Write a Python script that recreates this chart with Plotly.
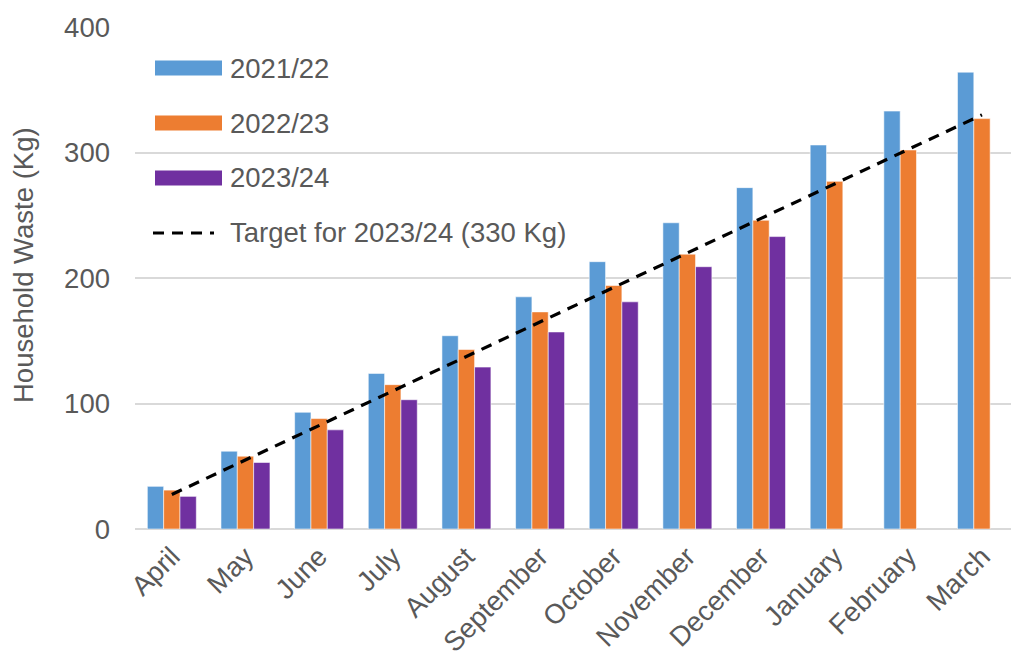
import plotly.graph_objects as go

months = ["April", "May", "June", "July", "August", "September", "October",
          "November", "December", "January", "February", "March"]
series_names = ["2021/22", "2022/23", "2023/24"]
waste_2122 = [34, 62, 93, 124, 154, 185, 213, 244, 272, 306, 333, 364]
waste_2223 = [31, 58, 88, 115, 143, 173, 194, 219, 246, 277, 302, 327]
waste_2324 = [26, 53, 79, 103, 129, 157, 181, 209, 233]
target_2324 = [27.5, 55, 82.5, 110, 137.5, 165, 192.5, 220, 247.5, 275, 302.5, 330]
target_name = "Target for 2023/24 (330 Kg)"
y_title = "Household Waste (Kg)"
y_ticks = [0, 100, 200, 300, 400]

colors = ["#5B9BD5", "#ED7D31", "#7030A0"]
text_color = "#595959"
font_family = "Liberation Sans, Arial, sans-serif"
fs = 27.5

W, H = 1011, 657
L, R, T, B = 135, 0, 27, 128
pw, ph = W - L - R, H - T - B

fig = go.Figure()
for name, vals, col in zip(series_names, [waste_2122, waste_2223, waste_2324], colors):
    fig.add_trace(go.Bar(
        x=months[:len(vals)], y=vals, name=name,
        marker=dict(color=col, line=dict(color="rgba(255,255,255,0.55)", width=1)),
        showlegend=False,
    ))
fig.add_trace(go.Scatter(
    x=months, y=target_2324, name=target_name, mode="lines",
    line=dict(color="black", width=3.2, dash="11px,8px"),
    showlegend=False,
))

# manual legend (pixel positions converted to paper coords)
def px_x(p):
    return (p - L) / pw

def px_y(p):
    return (H - B - p) / ph

rows = [68, 123, 178]
for name, col, ry in zip(series_names, colors, rows):
    fig.add_shape(type="rect", xref="paper", yref="paper",
                  x0=px_x(155), x1=px_x(222), y0=px_y(ry + 7.5), y1=px_y(ry - 7.5),
                  fillcolor=col, line=dict(width=0))
    fig.add_annotation(xref="paper", yref="paper", x=px_x(228), y=px_y(ry),
                       text=name, showarrow=False, xanchor="left", yanchor="middle",
                       font=dict(size=fs, color=text_color, family=font_family))
fig.add_shape(type="line", xref="paper", yref="paper",
              x0=px_x(153), x1=px_x(214), y0=px_y(233), y1=px_y(233),
              line=dict(color="black", width=3.2, dash="11px,8px"))
fig.add_annotation(xref="paper", yref="paper", x=px_x(228), y=px_y(233),
                   text=target_name, showarrow=False, xanchor="left", yanchor="middle",
                   font=dict(size=fs, color=text_color, family=font_family))
# y-axis title
fig.add_annotation(xref="paper", yref="paper", x=px_x(23), y=px_y(265),
                   text=y_title, showarrow=False, textangle=-90,
                   xanchor="center", yanchor="middle",
                   font=dict(size=fs, color=text_color, family=font_family))

fig.update_layout(
    width=W, height=H,
    margin=dict(l=L, r=R, t=T, b=B, autoexpand=False),
    plot_bgcolor="white", paper_bgcolor="white",
    barmode="group", bargap=0.335, bargroupgap=0,
    font=dict(family=font_family, size=fs, color=text_color),
    showlegend=False,
)
fig.update_xaxes(
    type="category", range=[-0.5, 11.394], tickangle=-45,
    showgrid=False, showline=False, ticks="", automargin=False,
    ticklabelstandoff=5,
    tickfont=dict(size=fs, color=text_color),
)
fig.update_yaxes(
    range=[0, 400], tickvals=y_ticks, showgrid=True, gridcolor="#D9D9D9", gridwidth=2,
    zeroline=True, zerolinecolor="#D9D9D9", zerolinewidth=2,
    showline=False, ticks="", ticklabelstandoff=24, automargin=False,
    tickfont=dict(size=fs, color=text_color),
)

fig.write_html("out.html", config={"displayModeBar": False},
               post_script="document.body.style.margin='0px';document.body.style.overflow='hidden';")
